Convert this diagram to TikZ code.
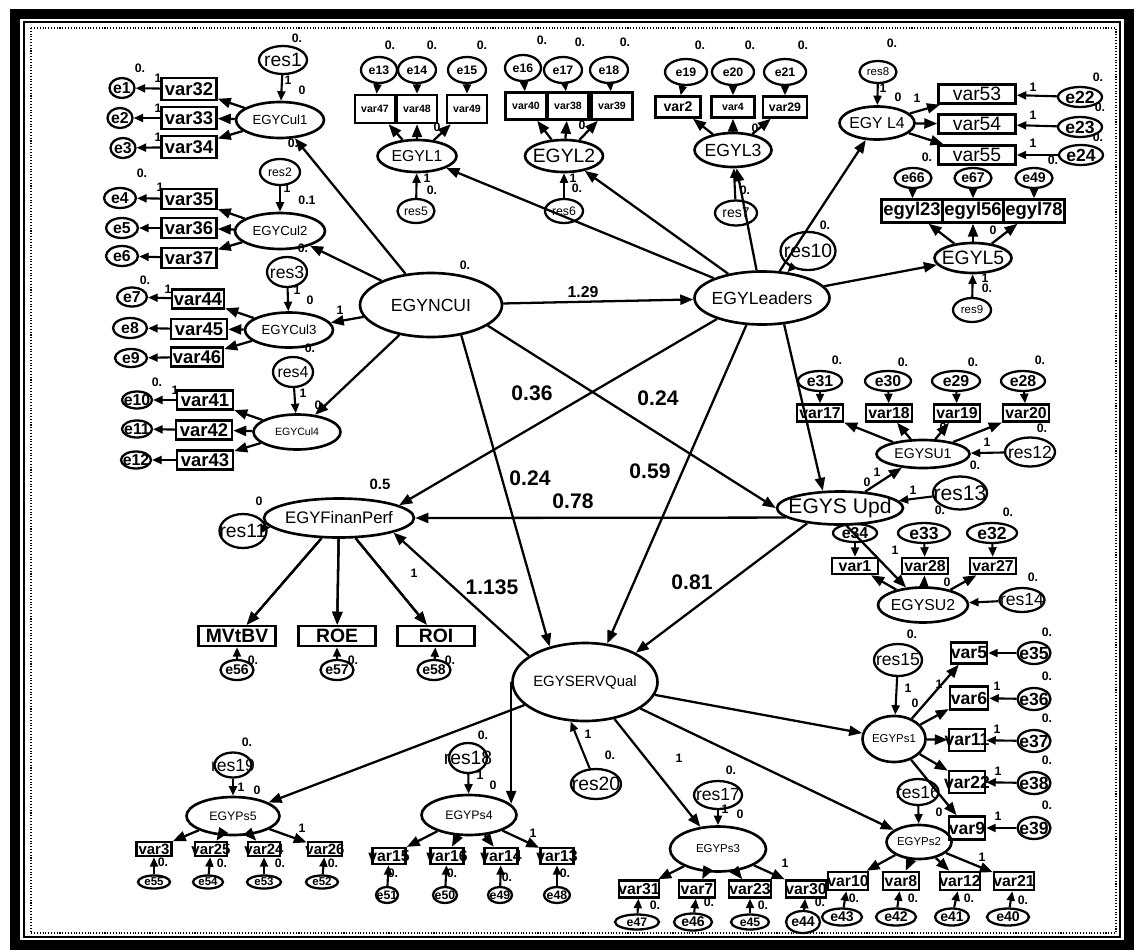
\documentclass[tikz,border=0pt]{standalone}
\usepackage{fontspec}
\setmainfont{Liberation Sans}
\usetikzlibrary{arrows.meta,shapes.geometric}
\newcommand{\tam}[1]{\fontsize{#1}{#1}\selectfont}

\begin{document}
\begin{tikzpicture}[x=0.2mm, y=-0.2mm, >={Triangle[length=2.6mm,width=2mm]},
      latente/.style={draw, ellipse, line width=1.5pt, inner sep=0pt,
                      execute at begin node={\hbox to 0pt\bgroup\hss},
                      execute at end node={\hss\egroup}},
      resid/.style={latente, line width=1.3pt},
      caja/.style={draw, rectangle, line width=1.4pt, inner sep=0pt,
                   execute at begin node={\hbox to 0pt\bgroup\hss},
                   execute at end node={\hss\egroup}},
      med/.style 2 args={minimum width=#1*0.2mm, minimum height=#2*0.2mm},
      flecha/.style={->, line width=1.3pt},
      corta/.style={-{Triangle[length=1.9mm,width=1.6mm]}, line width=1.2pt},
      etiq/.style={font=\bfseries\tam{7}, inner sep=0pt},
      coef/.style={font=\bfseries\tam{12}, inner sep=0pt}]

  \useasboundingbox (0,0) rectangle (1142,951);
  % marco
  \draw[line width=2mm] (15,14) rectangle (1129,945);
  \draw[line width=0.7pt] (24,22) rectangle (1120,937);
  \draw[densely dotted, line width=0.6pt] (31,28) rectangle (1116,933);

  % factores principales
  \node[latente, med={142}{64}, font=\tam{10}] (ncui) at (431,305) {EGYNCUI};
  \node[latente, med={135}{53}, font=\tam{10}] (lead) at (762,298) {EGYLeaders};
  \node[latente, med={150}{39}, font=\tam{9.5}] (finan) at (339,518) {EGYFinanPerf};
  \node[latente, med={126}{33}, font=\tam{12}] (supd) at (840,508) {EGYS Upd};
  \node[latente, med={145}{78}, font=\tam{8.5}] (serv) at (585,682) {EGYSERVQual};

  % EGYCul1 .. EGYCul4
  \node[latente, med={88}{36}, font=\tam{7.5}] (cul1) at (280,120) {EGYCul1};
  \node[resid, med={48}{28}, font=\tam{11}] (res1) at (283,60) {res1};
  \node[caja, med={55}{22}, font=\bfseries\tam{10.5}] (v32) at (189,89) {var32};
  \node[caja, med={55}{22}, font=\bfseries\tam{10.5}] (v33) at (189,118) {var33};
  \node[caja, med={55}{22}, font=\bfseries\tam{10.5}] (v34) at (189,147) {var34};
  \node[resid, med={25}{20}, font=\bfseries\tam{9}] (e1) at (122,88) {e1};
  \node[resid, med={25}{20}, font=\bfseries\tam{9}] (e2) at (120,118) {e2};
  \node[resid, med={25}{20}, font=\bfseries\tam{9}] (e3) at (123,148) {e3};

  \node[latente, med={90}{36}, font=\tam{7.5}] (cul2) at (280,231) {EGYCul2};
  \node[resid, med={40}{26}, font=\tam{7}] (res2) at (280,172) {res2};
  \node[caja, med={55}{20}, font=\bfseries\tam{10.5}] (v35) at (189,199) {var35};
  \node[caja, med={55}{20}, font=\bfseries\tam{10.5}] (v36) at (189,228) {var36};
  \node[caja, med={55}{20}, font=\bfseries\tam{10.5}] (v37) at (189,258) {var37};
  \node[resid, med={32}{20}, font=\bfseries\tam{9}] (e4) at (120,198) {e4};
  \node[resid, med={32}{20}, font=\bfseries\tam{9}] (e5) at (122,228) {e5};
  \node[resid, med={32}{20}, font=\bfseries\tam{9}] (e6) at (122,256) {e6};

  \node[latente, med={88}{35}, font=\tam{7.5}] (cul3) at (289,330) {EGYCul3};
  \node[resid, med={40}{30}, font=\tam{10}] (res3) at (287,272) {res3};
  \node[caja, med={52}{19}, font=\bfseries\tam{10.5}] (v44) at (198,299) {var44};
  \node[caja, med={56}{20}, font=\bfseries\tam{10.5}] (v45) at (199,329) {var45};
  \node[caja, med={52}{19}, font=\bfseries\tam{10.5}] (v46) at (197,357) {var46};
  \node[resid, med={30}{19}, font=\bfseries\tam{9}] (e7) at (132,297) {e7};
  \node[resid, med={34}{20}, font=\bfseries\tam{9}] (e8) at (130,328) {e8};
  \node[resid, med={32}{18}, font=\bfseries\tam{9}] (e9) at (131,358) {e9};

  \node[latente, med={87}{35}, font=\tam{6}] (cul4) at (297,432) {EGYCul4};
  \node[resid, med={40}{30}, font=\tam{9}] (res4) at (293,372) {res4};
  \node[caja, med={56}{19}, font=\bfseries\tam{10.5}] (v41) at (205,400) {var41};
  \node[caja, med={56}{19}, font=\bfseries\tam{10.5}] (v42) at (204,430) {var42};
  \node[caja, med={56}{19}, font=\bfseries\tam{10.5}] (v43) at (205,460) {var43};
  \node[resid, med={30}{17}, font=\bfseries\tam{9}] (e10) at (137,400) {e10};
  \node[resid, med={30}{17}, font=\bfseries\tam{9}] (e11) at (137,429) {e11};
  \node[resid, med={30}{17}, font=\bfseries\tam{9}] (e12) at (136,460) {e12};

  % EGYL1 .. EGYL5
  \node[latente, med={79}{32}, font=\tam{9}] (l1) at (417,156) {EGYL1};
  \node[resid, med={37}{24}, font=\tam{7}] (res5) at (416,211) {res5};
  \node[caja, med={40}{28}, font=\bfseries\tam{6}] (v47) at (375,109) {var47};
  \node[caja, med={40}{28}, font=\bfseries\tam{6}] (v48) at (417,109) {var48};
  \node[caja, med={40}{28}, font=\bfseries\tam{6}] (v49) at (467,109) {var49};
  \node[resid, med={36}{26}, font=\bfseries\tam{7}] (e13) at (379,70) {e13};
  \node[resid, med={38}{26}, font=\bfseries\tam{7}] (e14) at (417,70) {e14};
  \node[resid, med={38}{26}, font=\bfseries\tam{7}] (e15) at (467,70) {e15};

  \node[latente, med={78}{32}, font=\tam{11}] (l2) at (564,156) {EGYL2};
  \node[resid, med={38}{24}, font=\tam{7}] (res6) at (564,211) {res6};
  \node[caja, med={41}{27}, font=\bfseries\tam{6}] (v40) at (526,106) {var40};
  \node[caja, med={41}{27}, font=\bfseries\tam{6}] (v38) at (568,106) {var38};
  \node[caja, med={41}{27}, font=\bfseries\tam{6}] (v39) at (612,106) {var39};
  \node[resid, med={36}{26}, font=\bfseries\tam{7}] (e16) at (523,68) {e16};
  \node[resid, med={38}{26}, font=\bfseries\tam{7}] (e17) at (563,70) {e17};
  \node[resid, med={38}{26}, font=\bfseries\tam{7}] (e18) at (609,70) {e18};

  \node[latente, med={77}{34}, font=\tam{10}] (l3) at (733,150) {EGYL3};
  \node[resid, med={42}{25}, font=\tam{8}] (res7) at (736,213) {res7};
  \node[caja, med={45}{21}, font=\bfseries\tam{8}] (v2) at (678,107) {var2};
  \node[caja, med={43}{21}, font=\bfseries\tam{6}] (v4) at (733,107) {var4};
  \node[caja, med={44}{21}, font=\bfseries\tam{7}] (v29) at (785,107) {var29};
  \node[resid, med={42}{26}, font=\bfseries\tam{7}] (e19) at (686,72) {e19};
  \node[resid, med={42}{26}, font=\bfseries\tam{7}] (e20) at (733,72) {e20};
  \node[resid, med={42}{26}, font=\bfseries\tam{7}] (e21) at (785,72) {e21};

  \node[latente, med={75}{33}, font=\tam{9}] (l4) at (877,123) {EGY L4};
  \node[resid, med={37}{22}, font=\tam{6.5}] (res8) at (878,72) {res8};
  \node[caja, med={77}{19}, font=\tam{11}] (v53) at (977,94) {var53};
  \node[caja, med={77}{19}, font=\tam{11}] (v54) at (977,124) {var54};
  \node[caja, med={77}{19}, font=\tam{11}] (v55) at (977,155) {var55};
  \node[resid, med={44}{20}, font=\bfseries\tam{10}] (e22) at (1080,97) {e22};
  \node[resid, med={44}{20}, font=\bfseries\tam{10}] (e23) at (1080,127) {e23};
  \node[resid, med={44}{20}, font=\bfseries\tam{10}] (e24) at (1081,155) {e24};

  \node[latente, med={77}{30}, font=\tam{11}] (l5) at (973,258) {EGYL5};
  \node[resid, med={38}{24}, font=\tam{6.5}] (res9) at (972,310) {res9};
  \node[resid, med={55}{38}, font=\tam{11}] (res10) at (808,251) {res10};
  \node[caja, med={61}{23}, font=\bfseries\tam{10.5}] (g23) at (912,211) {egyl23};
  \node[caja, med={61}{23}, font=\bfseries\tam{10.5}] (g56) at (973,211) {egyl56};
  \node[caja, med={61}{23}, font=\bfseries\tam{10.5}] (g78) at (1034,211) {egyl78};
  \node[resid, med={37}{20}, font=\bfseries\tam{8}] (e66) at (913,178) {e66};
  \node[resid, med={37}{20}, font=\bfseries\tam{8}] (e67) at (973,178) {e67};
  \node[resid, med={37}{20}, font=\bfseries\tam{8}] (e49) at (1034,178) {e49};

  % EGYSU1 / EGYSU2
  \node[latente, med={93}{28}, font=\tam{8}] (su1) at (923,454) {EGYSU1};
  \node[resid, med={50}{29}, font=\tam{10}] (res12) at (1030,452) {res12};
  \node[caja, med={46}{17}, font=\bfseries\tam{9}] (v17) at (820,413) {var17};
  \node[caja, med={46}{17}, font=\bfseries\tam{9}] (v18) at (889,413) {var18};
  \node[caja, med={46}{17}, font=\bfseries\tam{9}] (v19) at (957,413) {var19};
  \node[caja, med={46}{17}, font=\bfseries\tam{9}] (v20) at (1026,413) {var20};
  \node[resid, med={44}{20}, font=\bfseries\tam{9}] (e31) at (820,381) {e31};
  \node[resid, med={46}{20}, font=\bfseries\tam{9}] (e30) at (888,381) {e30};
  \node[resid, med={48}{20}, font=\bfseries\tam{9}] (e29) at (956,381) {e29};
  \node[resid, med={44}{20}, font=\bfseries\tam{9}] (e28) at (1023,381) {e28};

  \node[resid, med={54}{33}, font=\tam{12}] (res13) at (960,493) {res13};
  \node[latente, med={90}{35}, font=\tam{9}] (su2) at (923,605) {EGYSU2};
  \node[resid, med={45}{24}, font=\tam{10}] (res14) at (1022,600) {res14};
  \node[caja, med={46}{16}, font=\bfseries\tam{9}] (v1) at (855,566) {var1};
  \node[caja, med={46}{16}, font=\bfseries\tam{9}] (v28) at (925,566) {var28};
  \node[caja, med={46}{16}, font=\bfseries\tam{9}] (v27) at (993,566) {var27};
  \node[resid, med={44}{18}, font=\bfseries\tam{9}] (e34) at (855,533) {e34};
  \node[resid, med={52}{20}, font=\bfseries\tam{10}] (e33) at (924,533) {e33};
  \node[resid, med={50}{20}, font=\bfseries\tam{10}] (e32) at (992,533) {e32};

  % EGYFinanPerf
  \node[resid, med={47}{34}, font=\tam{11}] (res11) at (243,531) {res11};
  \node[caja, med={77}{20}, font=\bfseries\tam{11}] (mvbv) at (237,636) {MVtBV};
  \node[caja, med={77}{20}, font=\bfseries\tam{11}] (roe) at (337,636) {ROE};
  \node[caja, med={77}{20}, font=\bfseries\tam{11}] (roi) at (436,636) {ROI};
  \node[resid, med={33}{20}, font=\bfseries\tam{8}] (e56) at (237,670) {e56};
  \node[resid, med={33}{20}, font=\bfseries\tam{8}] (e57) at (337,670) {e57};
  \node[resid, med={33}{20}, font=\bfseries\tam{8}] (e58) at (434,670) {e58};

  % EGYPs1 .. EGYPs5
  \node[resid, med={50}{30}, font=\tam{11}] (res20) at (596,784) {res20};

  \node[latente, med={63}{46}, font=\tam{6.5}] (ps1) at (894,739) {EGYPs1};
  \node[resid, med={48}{32}, font=\tam{10}] (res15) at (898,660) {res15};
  \node[caja, med={36}{21}, font=\bfseries\tam{10}] (p1a) at (969,653) {var5};
  \node[caja, med={38}{23}, font=\bfseries\tam{10}] (p1b) at (969,698) {var6};
  \node[caja, med={36}{22}, font=\bfseries\tam{10}] (p1c) at (967,740) {var11};
  \node[caja, med={36}{22}, font=\bfseries\tam{10}] (p1d) at (967,782) {var22};
  \node[caja, med={36}{23}, font=\bfseries\tam{10}] (p1e) at (967,828) {var9};
  \node[resid, med={33}{22}, font=\bfseries\tam{10}] (e35) at (1034,653) {e35};
  \node[resid, med={33}{22}, font=\bfseries\tam{10}] (e36) at (1034,699) {e36};
  \node[resid, med={33}{22}, font=\bfseries\tam{10}] (e37) at (1034,741) {e37};
  \node[resid, med={33}{22}, font=\bfseries\tam{10}] (e38) at (1034,783) {e38};
  \node[resid, med={33}{22}, font=\bfseries\tam{10}] (e39) at (1034,828) {e39};

  \node[latente, med={65}{34}, font=\tam{6.5}] (ps2) at (919,842) {EGYPs2};
  \node[resid, med={41}{26}, font=\tam{10}] (res16) at (918,792) {res16};
  \node[caja, med={40}{18}, font=\bfseries\tam{9}] (p2a) at (848,881) {var10};
  \node[caja, med={36}{18}, font=\bfseries\tam{9}] (p2b) at (901,881) {var8};
  \node[caja, med={40}{18}, font=\bfseries\tam{9}] (p2c) at (960,881) {var12};
  \node[caja, med={40}{18}, font=\bfseries\tam{9}] (p2d) at (1014,881) {var21};
  \node[resid, med={40}{17}, font=\bfseries\tam{8}] (e43) at (842,917) {e43};
  \node[resid, med={40}{17}, font=\bfseries\tam{8}] (e42) at (896,917) {e42};
  \node[resid, med={34}{17}, font=\bfseries\tam{8}] (e41) at (952,917) {e41};
  \node[resid, med={42}{17}, font=\bfseries\tam{8}] (e40) at (1008,917) {e40};

  \node[latente, med={96}{45}, font=\tam{6.5}] (ps3) at (718,849) {EGYPs3};
  \node[resid, med={48}{28}, font=\tam{10}] (res17) at (718,795) {res17};
  \node[caja, med={40}{17}, font=\bfseries\tam{9}] (p3a) at (639,889) {var31};
  \node[caja, med={36}{17}, font=\bfseries\tam{9}] (p3b) at (697,889) {var7};
  \node[caja, med={42}{17}, font=\bfseries\tam{9}] (p3c) at (750,889) {var23};
  \node[caja, med={40}{17}, font=\bfseries\tam{9}] (p3d) at (806,889) {var30};
  \node[resid, med={44}{15}, font=\bfseries\tam{7}] (e47) at (637,922) {e47};
  \node[resid, med={38}{17}, font=\bfseries\tam{8}] (e46) at (693,922) {e46};
  \node[resid, med={38}{15}, font=\bfseries\tam{7}] (e45) at (750,922) {e45};
  \node[resid, med={34}{22}, font=\bfseries\tam{8}] (e44) at (803,922) {e44};

  \node[latente, med={95}{40}, font=\tam{7}] (ps4) at (469,815) {EGYPs4};
  \node[resid, med={38}{30}, font=\tam{11}] (res18) at (468,758) {res18};
  \node[caja, med={33}{16}, font=\bfseries\tam{9}] (p4a) at (389,856) {var15};
  \node[caja, med={33}{16}, font=\bfseries\tam{9}] (p4b) at (447,856) {var16};
  \node[caja, med={33}{16}, font=\bfseries\tam{9}] (p4c) at (501,856) {var14};
  \node[caja, med={33}{16}, font=\bfseries\tam{9}] (p4d) at (557,856) {var13};
  \node[resid, med={22}{16}, font=\bfseries\tam{7}] (e51) at (387,895) {e51};
  \node[resid, med={24}{16}, font=\bfseries\tam{7}] (e50) at (445,895) {e50};
  \node[resid, med={24}{16}, font=\bfseries\tam{7}] (e49b) at (500,895) {e49};
  \node[resid, med={26}{16}, font=\bfseries\tam{7}] (e48) at (557,895) {e48};

  \node[latente, med={93}{38}, font=\tam{7}] (ps5) at (233,816) {EGYPs5};
  \node[resid, med={37}{25}, font=\tam{10}] (res19) at (233,765) {res19};
  \node[caja, med={35}{14}, font=\bfseries\tam{8.5}] (p5a) at (154,849) {var3};
  \node[caja, med={32}{14}, font=\bfseries\tam{8.5}] (p5b) at (211,849) {var25};
  \node[caja, med={32}{14}, font=\bfseries\tam{8.5}] (p5c) at (264,849) {var24};
  \node[caja, med={34}{14}, font=\bfseries\tam{8.5}] (p5d) at (325,849) {var26};
  \node[resid, med={32}{13}, font=\bfseries\tam{6.5}] (e55) at (154,882) {e55};
  \node[resid, med={30}{13}, font=\bfseries\tam{6.5}] (e54) at (208,882) {e54};
  \node[resid, med={34}{13}, font=\bfseries\tam{6.5}] (e53) at (264,882) {e53};
  \node[resid, med={32}{13}, font=\bfseries\tam{6.5}] (e52) at (322,882) {e52};

  % coeficientes
  \node[etiq, font=\bfseries\tam{9}] (c129) at (583,292) {1.29};
  \node[coef] (c036) at (532,393) {0.36};
  \node[coef] (c024a) at (658,398) {0.24};
  \node[coef] (c024b) at (530,478) {0.24};
  \node[coef] (c059) at (650,471) {0.59};
  \node[coef] (c078) at (573,501) {0.78};
  \node[coef] (c1135) at (492,587) {1.135};
  \node[coef] (c081) at (692,582) {0.81};
  \node[etiq, font=\bfseries\tam{8.5}] (c05) at (380,484) {0.5};

  % varianzas y pesos fijos
  \foreach \px/\py/\tx [count=\i] in {297/38/0., 140/68/0., 158/78/1, 158/108/1, 158/137/1,
      288/80/1, 302/90/0, 293/143/0., 142/173/0., 160/187/1, 287/188/1, 307/200/0.1,
      303/248/0., 145/280/0., 168/289/1, 297/290/1, 310/300/0, 340/310/1, 310/348/0.,
      157/382/0., 175/390/1, 303/393/1, 318/405/0,
      390/45/0., 432/45/0., 482/45/0., 437/127/0, 427/178/1, 432/190/0.,
      542/40/0., 580/42/0., 625/42/0., 582/125/0, 573/178/1, 577/188/0.,
      700/45/0., 750/45/0., 803/45/0., 755/128/0, 745/190/0.,
      892/43/0., 883/88/1, 898/97/0, 917/98/1, 1033/87/1, 1033/115/1, 1033/143/1,
      1098/77/0., 1100/107/0., 1098/137/0., 1053/160/0., 927/157/0., 993/230/0,
      985/278/1, 987/288/0., 825/225/0.,
      837/360/0., 903/362/0., 973/362/0., 1040/360/0., 943/427/0, 987/442/1,
      975/465/0., 1042/428/0.,
      913/490/1, 940/510/0., 867/482/0, 877/472/1, 1008/512/0., 895/550/1, 947/582/0,
      1033/577/0., 1047/632/0.,
      259/501/0, 414/573/1, 253/660/0., 353/660/0., 450/660/0.,
      912/634/0., 908/688/1, 915/703/0, 939/684/1, 1047/676/0.,
      1047/718/0., 1047/760/0., 1047/805/0., 997/686/1, 997/729/1, 998/771/1, 998/816/1,
      939/812/0, 854/898/0., 913/898/0., 969/898/0., 1023/900/0., 982/857/1,
      731/770/0., 725/809/1, 740/814/0, 679/758/1, 655/905/0., 709/902/0., 763/905/0.,
      820/902/0., 785/863/1,
      483/735/0., 480/775/1, 493/785/0, 393/873/0., 452/873/0., 507/877/0., 565/873/0.,
      533/833/1,
      247/742/0., 241/787/1, 257/790/0, 163/862/0., 222/863/0., 280/863/0., 333/863/0.,
      302/828/1, 588/734/1, 610/755/0., 465/265/0.}
    \node[etiq] (z\i) at (\px,\py) {\tx};

  % relaciones estructurales
  \draw[flecha] (ncui) -- (lead);
  \draw[flecha] (ncui) -- (cul1);
  \draw[flecha] (ncui) -- (cul2);
  \draw[flecha] (ncui) -- (cul3);
  \draw[flecha] (ncui) -- (cul4);
  \draw[flecha] (ncui.340) -- (supd.west);
  \draw[flecha] (ncui.315) -- (serv.135);
  \draw[flecha] (lead.205) -- (finan.12);
  \draw[flecha] (lead.240) -- (serv.60);
  \draw[flecha] (lead.310) -- (supd.135);
  \draw[flecha] (supd.190) -- (finan.east);
  \draw[flecha] (supd.205) -- (serv.30);
  \draw[flecha] (serv.155) -- (finan.345);
  \draw[flecha] (lead) -- (l1);
  \draw[flecha] (lead) -- (l2);
  \draw[flecha] (lead) -- (l3);
  \draw[flecha] (lead) -- (l4);
  \draw[flecha] (lead) -- (l5);
  \draw[flecha] (supd) -- (su1);
  \draw[flecha] (supd.290) -- (su2);
  \draw[flecha] (serv) -- (ps1);
  \draw[flecha] (serv) -- (ps2);
  \draw[flecha] (serv) -- (ps3);
  \draw[flecha] (serv.west) -- (serv.west |- ps4.15);
  \draw[flecha] (serv) -- (ps5);
  \draw[flecha] (finan) -- (mvbv);
  \draw[flecha] (finan) -- (roe);
  \draw[flecha] (finan) -- (roi);

  % residuos de los factores
  \draw[corta] (res1) -- (cul1);
  \draw[corta] (res2) -- (cul2);
  \draw[corta] (res3) -- (cul3);
  \draw[corta] (res4) -- (cul4);
  \draw[corta] (res5) -- (l1);
  \draw[corta] (res6) -- (l2);
  \draw[corta] (res7) -- (l3);
  \draw[corta] (res8) -- (l4);
  \draw[corta] (res9) -- (l5);
  \draw[corta] (res10) -- (lead);
  \draw[corta] (res11) -- (finan);
  \draw[corta] (res12) -- (su1);
  \draw[corta] (res13) -- (supd);
  \draw[corta] (res14) -- (su2);
  \draw[corta] (res15) -- (ps1);
  \draw[corta] (res16) -- (ps2);
  \draw[corta] (res17) -- (ps3);
  \draw[corta] (res18) -- (ps4);
  \draw[corta] (res19) -- (ps5);
  \draw[corta] (res20) -- (serv.250);

  % cargas e indicadores
  \foreach \f/\v/\e in {cul1/v32/e1, cul1/v33/e2, cul1/v34/e3, cul2/v35/e4, cul2/v36/e5,
      cul2/v37/e6, cul3/v44/e7, cul3/v45/e8, cul3/v46/e9, cul4/v41/e10, cul4/v42/e11,
      cul4/v43/e12}
    {\draw[flecha] (\f) -- (\v); \draw[corta] (\v) -- (\e);}
  \foreach \f/\v/\e in {l1/v47/e13, l1/v48/e14, l1/v49/e15, l2/v40/e16, l2/v38/e17,
      l2/v39/e18, l3/v2/e19, l3/v4/e20, l3/v29/e21, l4/v53/e22, l4/v54/e23, l4/v55/e24,
      l5/g23/e66, l5/g56/e67, l5/g78/e49, su1/v17/e31, su1/v18/e30, su1/v19/e29,
      su1/v20/e28, su2/v1/e34, su2/v28/e33, su2/v27/e32, finan/mvbv/e56, finan/roe/e57,
      finan/roi/e58, ps1/p1a/e35, ps1/p1b/e36, ps1/p1c/e37, ps1/p1d/e38, ps1/p1e/e39,
      ps2/p2a/e43, ps2/p2b/e42, ps2/p2c/e41, ps2/p2d/e40, ps3/p3a/e47, ps3/p3b/e46,
      ps3/p3c/e45, ps3/p3d/e44, ps4/p4a/e51, ps4/p4b/e50, ps4/p4c/e49b, ps4/p4d/e48,
      ps5/p5a/e55, ps5/p5b/e54, ps5/p5c/e53, ps5/p5d/e52}
    {\draw[flecha] (\f) -- (\v); \draw[corta] (\e) -- (\v);}
\end{tikzpicture}
\end{document}
